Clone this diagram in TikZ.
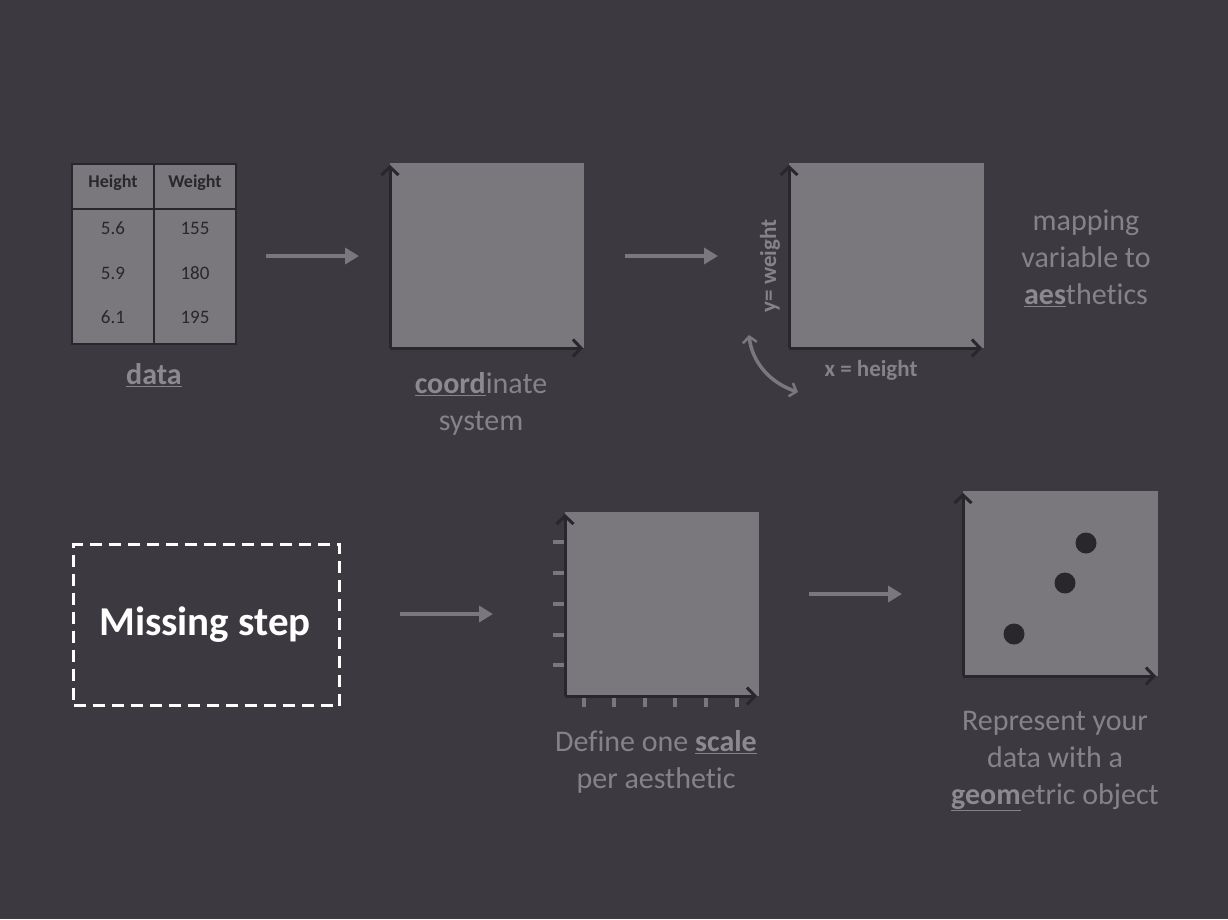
\documentclass[tikz,border=0pt]{standalone}
\usepackage{fontspec}
\setmainfont[Ligatures={NoCommon}]{Carlito}
\usetikzlibrary{arrows.meta}
\definecolor{bg}{HTML}{3C3A40}
\definecolor{boxfill}{HTML}{7A787C}
\definecolor{axis}{HTML}{29272C}
\definecolor{lbl}{HTML}{85838A}
\definecolor{lblb}{HTML}{8C8A90}
\tikzset{
  panel/.style={fill=boxfill, draw=none},
  ax/.style={draw=axis, line width=3pt, -{Straight Barb[length=8pt,width=17pt,line width=3pt]}},
  flow/.style={draw=boxfill, line width=4pt, -{Triangle[length=14pt,width=16pt]}},
  caption/.style={text=lbl, font=\fontsize{30}{37}\selectfont, align=center},
  cell/.style={text=axis, font=\fontsize{19}{20}\selectfont},
  hcell/.style={text=axis, font=\bfseries\fontsize{18}{20}\selectfont},
  tick/.style={draw=boxfill, line width=3.5pt},
  dot/.style={circle, fill=axis, minimum size=21pt, inner sep=0pt},
}
\newcommand{\ul}[1]{\underline{\textbf{\textcolor{lblb}{#1}}}}
\begin{document}
\begin{tikzpicture}[x=1pt,y=-1pt]
\fill[bg] (0,0) rectangle (1228,919);
\useasboundingbox (0,0) rectangle (1228,919);

% ---- table ----
\node[panel, minimum width=164pt, minimum height=180pt, anchor=north west, inner sep=0pt] (tbl) at (72,164) {};
\draw[axis, line width=2pt] (72,164) rectangle (236,344);
\draw[axis, line width=2pt] (154,164) -- (154,344);
\draw[axis, line width=2pt] (72,209) -- (236,209);
\node[hcell] (h1) at (113,183) {Height};
\node[hcell] (h2) at (195,183) {Weight};
\node[cell] (a1) at (113,228) {5.6};
\node[cell] (b1) at (195,228) {155};
\node[cell] (a2) at (113,273) {5.9};
\node[cell] (b2) at (195,273) {180};
\node[cell] (a3) at (113,317) {6.1};
\node[cell] (b3) at (195,317) {195};
\node[caption] (datalbl) at (154,375) {\ul{data}};

% ---- coordinate system ----
\node[panel, minimum width=194pt, minimum height=185pt, anchor=north west, inner sep=0pt] (p2) at (390,163) {};
\coordinate (o2) at (390,348);
\coordinate (y2) at (390,165);
\coordinate (x2) at (583,348);
\draw[ax] (o2) -- (y2);
\draw[ax] (o2) -- (x2);
\node[caption] (coordlbl) at (481,404) {\ul{coord}inate\\system};

% ---- aesthetics ----
\node[panel, minimum width=195pt, minimum height=185pt, anchor=north west, inner sep=0pt] (p3) at (789,163) {};
\coordinate (o3) at (789,348);
\coordinate (y3) at (789,165);
\coordinate (x3) at (982,348);
\draw[ax] (o3) -- (y3);
\draw[ax] (o3) -- (x3);
\node[text=lbl, font=\bfseries\fontsize{23}{24}\selectfont, rotate=90] (ylab) at (770,266) {y= weight};
\node[text=lbl, font=\bfseries\fontsize{23}{24}\selectfont] (xlab) at (871,370) {x = height};
\coordinate (c1) at (749,335);
\coordinate (c2) at (798,392);
\draw[draw=boxfill, line width=3.5pt, {Straight Barb[length=6pt,width=14pt,line width=2.5pt]}-{Straight Barb[length=6pt,width=14pt,line width=2.5pt]}] (c1) .. controls (752,362) and (770,383) .. (c2);
\node[caption] (aeslbl) at (1086,258) {mapping\\variable to\\\ul{aes}thetics};

% ---- missing step ----
\node[draw=white, dash pattern=on 12pt off 7pt, line width=3pt, minimum width=266pt, minimum height=161pt, anchor=north west, inner sep=0pt] (miss) at (72,543) {};
\node[text=white, font=\bfseries\fontsize{41}{44}\selectfont] (misslbl) at (205,625) {Missing step};

% ---- scale ----
\node[panel, minimum width=194pt, minimum height=184pt, anchor=north west, inner sep=0pt] (p4) at (565,512) {};
\foreach \yy in {542,573,604,635,665} \draw[tick] (553,\yy) -- (565,\yy);
\foreach \xx in {584,614,645,675,706,737} \draw[tick] (\xx,696) -- (\xx,707);
\coordinate (o4) at (565,696);
\coordinate (y4) at (565,514);
\coordinate (x4) at (757,696);
\draw[ax] (o4) -- (y4);
\draw[ax] (o4) -- (x4);
\node[caption] (scalelbl) at (656,762) {Define one \ul{scale}\\per aesthetic};

% ---- geom ----
\node[panel, minimum width=195pt, minimum height=185pt, anchor=north west, inner sep=0pt] (p5) at (963,491) {};
\coordinate (o5) at (963,676);
\coordinate (y5) at (963,493);
\coordinate (x5) at (1156,676);
\draw[ax] (o5) -- (y5);
\draw[ax] (o5) -- (x5);
\node[dot] (d1) at (1014,634) {};
\node[dot] (d2) at (1065,583) {};
\node[dot] (d3) at (1086,543) {};
\node[caption] (geomlbl) at (1055,761) {Represent your\\data with a\\\ul{geom}etric object};

% ---- flow arrows ----
\coordinate (f1a) at (266,256); \coordinate (f1b) at (359,256);
\coordinate (f2a) at (625,256); \coordinate (f2b) at (718,256);
\coordinate (f3a) at (400,614); \coordinate (f3b) at (493,614);
\coordinate (f4a) at (809,594); \coordinate (f4b) at (902,594);
\draw[flow] (f1a) -- (f1b);
\draw[flow] (f2a) -- (f2b);
\draw[flow] (f3a) -- (f3b);
\draw[flow] (f4a) -- (f4b);
\end{tikzpicture}
\end{document}
